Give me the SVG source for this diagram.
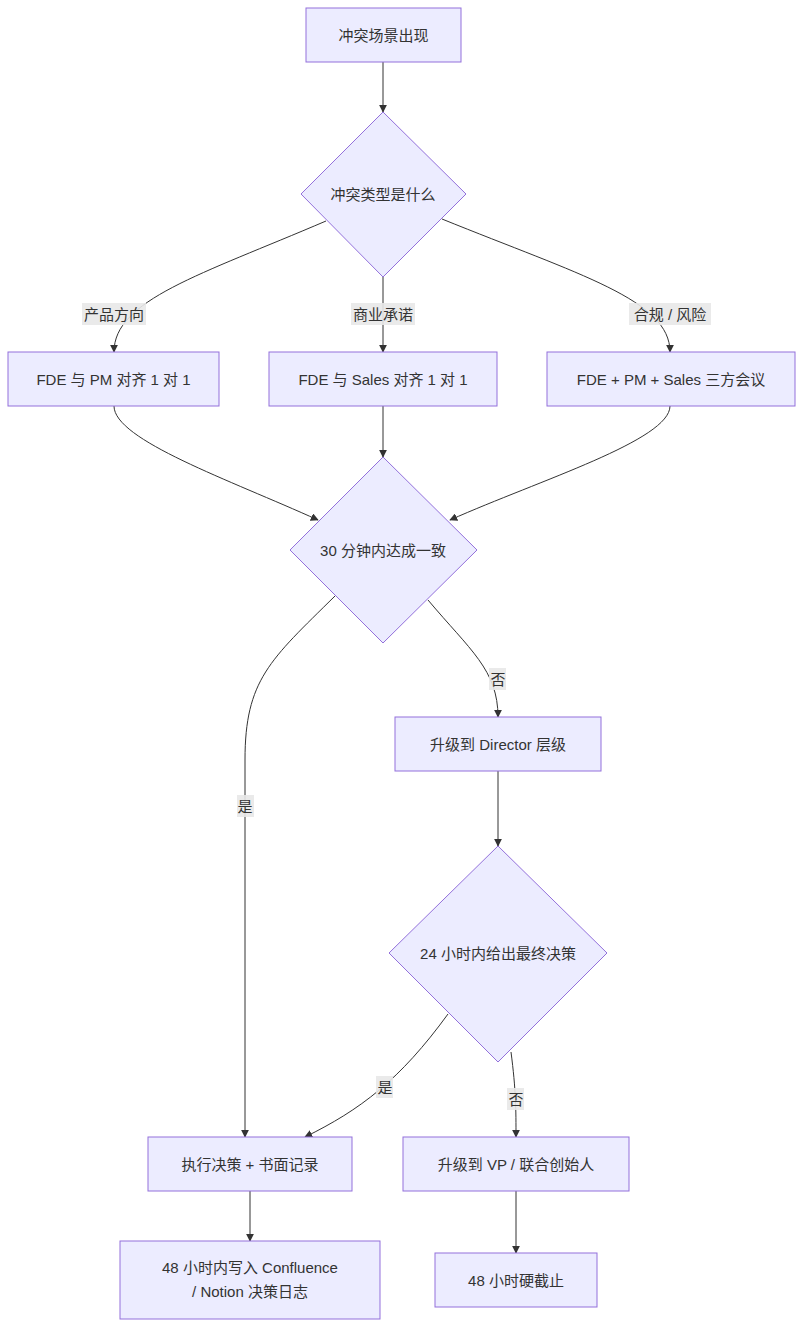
<svg xmlns="http://www.w3.org/2000/svg" width="803" height="1327" viewBox="0 0 803 1327">
<style>
.n{fill:#ECECFF;stroke:#9370DB;stroke-width:1}
text{font-family:"Liberation Sans","Noto Sans CJK SC",sans-serif;font-size:15px;fill:#333;text-anchor:middle;dominant-baseline:central}
.e{fill:none;stroke:#333;stroke-width:1;marker-end:url(#ar)}
.lb{fill:#E8E8E8;opacity:0.9}
</style>
<defs><marker id="ar" viewBox="0 0 10 10" refX="9" refY="5" markerWidth="8" markerHeight="8" orient="auto"><path d="M0,0L10,5L0,10z" fill="#333"/></marker></defs>
<rect width="803" height="1327" fill="#fff"/>
<g id="edges">
<path class="e" d="M383,62V112"/>
<path class="e" d="M326,221C200,275 114,300 114,352"/>
<path class="e" d="M383,277V352"/>
<path class="e" d="M442,219C580,275 670,300 670,352"/>
<path class="e" d="M114,406C114,440 230,480 318,520"/>
<path class="e" d="M383,406V457"/>
<path class="e" d="M670,406C670,440 540,480 450,520"/>
<path class="e" d="M335,596C270,660 245,680 245,760V1137"/>
<path class="e" d="M428,600C470,650 498,670 498,717"/>
<path class="e" d="M498,771V846"/>
<path class="e" d="M448,1014C400,1080 360,1110 305,1137"/>
<path class="e" d="M511,1052C516,1090 516,1110 516,1137"/>
<path class="e" d="M250,1191V1241"/>
<path class="e" d="M516,1191V1253"/>
<rect class="lb" x="82" y="303" width="64" height="22"/><text x="114" y="314">产品方向</text>
<rect class="lb" x="351" y="303" width="64" height="22"/><text x="383" y="314">商业承诺</text>
<rect class="lb" x="629" y="303" width="82" height="22"/><text x="670" y="314">合规 / 风险</text>
<rect class="lb" x="237" y="795" width="17" height="22"/><text x="245" y="806">是</text>
<rect class="lb" x="489" y="668" width="17" height="22"/><text x="498" y="679">否</text>
<rect class="lb" x="376" y="1076" width="17" height="22"/><text x="385" y="1087">是</text>
<rect class="lb" x="507" y="1088" width="17" height="22"/><text x="516" y="1099">否</text>
</g>
<g id="A"><rect class="n" x="306" y="8" width="155" height="54"/><text x="383.5" y="35">冲突场景出现</text></g>
<g id="B"><polygon class="n" points="383,112 466,194 383,277 301,194"/><text x="383" y="194">冲突类型是什么</text></g>
<g id="C1"><rect class="n" x="8" y="352" width="211" height="54"/><text x="113.5" y="379">FDE 与 PM 对齐 1 对 1</text></g>
<g id="C2"><rect class="n" x="269" y="352" width="228" height="54"/><text x="383" y="379">FDE 与 Sales 对齐 1 对 1</text></g>
<g id="C3"><rect class="n" x="547" y="352" width="248" height="54"/><text x="671" y="379">FDE + PM + Sales 三方会议</text></g>
<g id="D"><polygon class="n" points="383,457 477,550 383,643 290,550"/><text x="383" y="550">30 分钟内达成一致</text></g>
<g id="E"><rect class="n" x="395" y="717" width="206" height="54"/><text x="498" y="744">升级到 Director 层级</text></g>
<g id="F"><polygon class="n" points="498,846 607,953 498,1062 389,953"/><text x="498" y="953">24 小时内给出最终决策</text></g>
<g id="G"><rect class="n" x="148" y="1137" width="204" height="54"/><text x="250" y="1164">执行决策 + 书面记录</text></g>
<g id="H"><rect class="n" x="403" y="1137" width="226" height="54"/><text x="516" y="1164">升级到 VP / 联合创始人</text></g>
<g id="I"><rect class="n" x="120" y="1241" width="260" height="78"/><text x="250" y="1267">48 小时内写入 Confluence</text><text x="250" y="1291">/ Notion 决策日志</text></g>
<g id="J"><rect class="n" x="435" y="1253" width="162" height="54"/><text x="516" y="1280">48 小时硬截止</text></g>
</svg>
